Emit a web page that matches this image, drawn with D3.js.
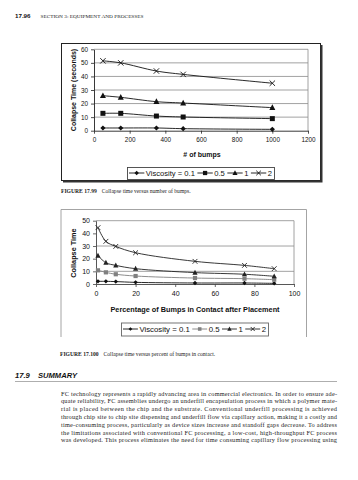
<!DOCTYPE html>
<html><head><meta charset="utf-8">
<script src="https://cdn.jsdelivr.net/npm/d3@7"></script>
<style>body{margin:0;background:#fff} svg{display:block}</style>
</head><body>
<svg id="page" width="358" height="480"></svg>
<script>
// ---------- data ----------
const bumpCounts   = [50, 150, 350, 500, 1000];
const visc01Bumps  = [2, 2, 2, 1.5, 1];
const visc05Bumps  = [12.8, 12.8, 10.8, 10.1, 8.9];
const visc1Bumps   = [25.8, 24.6, 21.4, 20.4, 17];
const visc2Bumps   = [51.5, 50, 44, 41.5, 35];
const bumpTicks    = [0, 200, 400, 600, 800, 1000, 1200];
const timeTicks1   = [0, 10, 20, 30, 40, 50, 60];
const grid1        = [10, 20, 30, 40, 50, 60];

const contactPct   = [1, 5, 10, 20, 50, 75, 90];
const visc01Pct    = [2.1, 2.1, 1.9, 1.3, 0.8, 0.8, 0.5];
const visc05Pct    = [10.8, 9.2, 7.7, 6.3, 4.7, 4.2, 3.4];
const visc1Pct     = [22.4, 16.8, 14.7, 12.1, 9, 7.7, 6.1];
const visc2Pct     = [44.5, 33.7, 29.7, 24.7, 17.9, 14.7, 12.1];
const pctTicks     = [0, 20, 40, 60, 80, 100];
const timeTicks2   = [0, 10, 20, 30, 40, 50];
const grid2        = [10, 30, 50];

const legendLabels = ["Viscosity = 0.1", "0.5", "1", "2"];
const markerTypes  = ["diamond", "square", "triangle", "x"];

const paragraph = [
  "FC technology represents a rapidly advancing area in commercial electronics. In order to ensure ade-",
  "quate reliability, FC assemblies undergo an underfill encapsulation process in which a polymer mate-",
  "rial is placed between the chip and the substrate. Conventional underfill processing is achieved",
  "through chip site to chip site dispensing and underfill flow via capillary action, making it a costly and",
  "time-consuming process, particularly as device sizes increase and standoff gaps decrease. To address",
  "the limitations associated with conventional FC processing, a low-cost, high-throughput FC process",
  "was developed. This process eliminates the need for time consuming capillary flow processing using"
];

// ---------- helpers ----------
const svg = d3.select("#page");
const SANS = "'Liberation Sans', Arial, sans-serif";
const SERIF = "'Liberation Serif', 'Times New Roman', serif";

function markerPath(type, r) {
  switch (type) {
    case "diamond": return `M0,${-r}L${r},0L0,${r}L${-r},0Z`;
    case "square": return `M${-r},${-r}h${2*r}v${2*r}h${-2*r}Z`;
    case "triangle": return `M0,${-r*1.1}L${r},${r*0.8}L${-r},${r*0.8}Z`;
    default: return `M${-r},${-r}L${r},${r}M${r},${-r}L${-r},${r}`;
  }
}
function drawMarker(g, type, x, y, r, color) {
  const p = g.append("path").attr("d", markerPath(type, r))
    .attr("transform", `translate(${x},${y})`);
  if (type === "x") p.attr("fill", "none").attr("stroke", color).attr("stroke-width", 0.9);
  else p.attr("fill", color).attr("stroke", "none");
}

function drawChart(cfg) {
  const g = svg.append("g");
  const x = d3.scaleLinear().domain(cfg.xDomain).range(cfg.xRange);
  const y = d3.scaleLinear().domain(cfg.yDomain).range(cfg.yRange);

  g.selectAll(".grid").data(cfg.grid).join("line")
    .attr("x1", cfg.xRange[0]).attr("x2", cfg.xRange[1])
    .attr("y1", d => y(d)).attr("y2", d => y(d))
    .attr("stroke", "#8a8a8a").attr("stroke-width", 0.8);
  g.append("line").attr("x1", cfg.xRange[1]).attr("x2", cfg.xRange[1])
    .attr("y1", cfg.yRange[0]).attr("y2", cfg.yRange[1])
    .attr("stroke", "#8a8a8a").attr("stroke-width", 0.8);

  const fmt = d3.format("d");
  const ax = g.append("g").attr("transform", `translate(0,${cfg.yRange[0]})`)
    .call(d3.axisBottom(x).tickValues(cfg.xTicks).tickFormat(fmt).tickSize(3).tickPadding(4).tickSizeOuter(0));
  const ay = g.append("g").attr("transform", `translate(${cfg.xRange[0]},0)`)
    .call(d3.axisLeft(y).tickValues(cfg.yTicks).tickFormat(fmt).tickSize(3).tickPadding(3).tickSizeOuter(0));
  [ax, ay].forEach(a => {
    a.select(".domain").attr("stroke", cfg.axisColor).attr("stroke-width", 0.9);
    a.selectAll(".tick line").attr("stroke", cfg.axisColor).attr("stroke-width", 0.8);
    a.selectAll("text").attr("font-family", SANS).attr("font-size", cfg.tickFont).attr("fill", "#111");
  });

  const line = d3.line().x(d => x(d[0])).y(d => y(d[1])).curve(d3.curveCatmullRom.alpha(0.5));
  cfg.series.forEach((s, i) => {
    const pts = cfg.xs.map((v, j) => [v, s.values[j]]);
    g.append("path").attr("d", line(pts)).attr("fill", "none")
      .attr("stroke", s.color).attr("stroke-width", 0.9);
    pts.forEach(p => drawMarker(g, markerTypes[i], x(p[0]), y(p[1]), cfg.markerR[i], s.color));
  });

  g.append("text").attr("x", cfg.xTitlePos[0]).attr("y", cfg.xTitlePos[1])
    .attr("text-anchor", "middle").attr("dominant-baseline", "central")
    .attr("font-family", SANS).attr("font-weight", "bold").attr("font-size", cfg.titleFont)
    .attr("fill", "#111").text(cfg.xTitle);
  g.append("text").attr("transform", `translate(${cfg.yTitlePos[0]},${cfg.yTitlePos[1]}) rotate(-90)`)
    .attr("text-anchor", "middle").attr("dominant-baseline", "central")
    .attr("font-family", SANS).attr("font-weight", "bold").attr("font-size", cfg.titleFont)
    .attr("fill", "#111").text(cfg.yTitle);

  const L = cfg.legend;
  const lg = g.append("g");
  const texts = legendLabels.map(t => lg.append("text").attr("font-family", SANS)
    .attr("font-size", L.font).attr("dominant-baseline", "central").attr("fill", "#111").text(t));
  const widths = texts.map(t => t.node().getComputedTextLength());
  const pad = 2, gapA = 1.5, gapB = 2.5;
  const sw = (L.x1 - L.x0 - 2 * pad - d3.sum(widths) - 4 * gapA - 3 * gapB) / 4;
  let cx = L.x0 + pad;
  const cy = (L.y0 + L.y1) / 2;
  cfg.series.forEach((s, i) => {
    lg.append("line").attr("x1", cx).attr("x2", cx + sw).attr("y1", cy).attr("y2", cy)
      .attr("stroke", s.color).attr("stroke-width", 0.9);
    drawMarker(lg, markerTypes[i], cx + sw / 2, cy, cfg.markerR[i] * 0.85, s.color);
    cx += sw + gapA;
    texts[i].attr("x", cx).attr("y", cy);
    cx += widths[i] + gapB;
  });
  lg.append("rect").attr("x", L.x0 + 0.5).attr("y", L.y0 + 0.5)
    .attr("width", L.x1 - L.x0).attr("height", L.y1 - L.y0)
    .attr("fill", "none").attr("stroke", L.stroke).attr("stroke-width", 0.9);
}

// ---------- page header ----------
svg.append("text").attr("x", 15).attr("y", 18).attr("font-family", SANS)
  .attr("font-weight", "bold").attr("font-size", 6.2).attr("fill", "#111").text("17.96");
svg.append("text").attr("x", 40.5).attr("y", 18).attr("font-family", SERIF)
  .attr("font-size", 5).attr("textLength", 103).attr("lengthAdjust", "spacingAndGlyphs")
  .attr("fill", "#222").text("SECTION 3: EQUIPMENT AND PROCESSES");

// ---------- chart 1 frame ----------
svg.append("rect").attr("x", 61.5).attr("y", 43.5).attr("width", 259).attr("height", 137)
  .attr("fill", "#fff").attr("stroke", "#222").attr("stroke-width", 1);
svg.append("path").attr("d", "M63,181.5H321.5V45").attr("fill", "none")
  .attr("stroke", "#333").attr("stroke-width", 2);

drawChart({
  xDomain: [0, 1200], xRange: [94, 308],
  yDomain: [0, 60], yRange: [130.7, 49.3],
  xTicks: bumpTicks, yTicks: timeTicks1, grid: grid1,
  axisColor: "#222", tickFont: 6.4, titleFont: 7,
  xs: bumpCounts,
  series: [
    { values: visc01Bumps, color: "#111" },
    { values: visc05Bumps, color: "#111" },
    { values: visc1Bumps, color: "#111" },
    { values: visc2Bumps, color: "#111" }
  ],
  markerR: [2.6, 2.5, 3, 2.7],
  xTitle: "# of bumps", xTitlePos: [202, 154],
  yTitle: "Collapse Time (seconds)", yTitlePos: [73, 90],
  legend: { x0: 127, x1: 274, y0: 167, y1: 179, font: 7.6, stroke: "#444" }
});

const cap1 = svg.append("text").attr("x", 61).attr("y", 193).attr("font-family", SERIF)
  .attr("font-size", 5.6).attr("fill", "#222");
cap1.append("tspan").attr("font-weight", "bold").text("FIGURE 17.99");
cap1.append("tspan").attr("dx", 5).text("Collapse time versus number of bumps.");

// ---------- chart 2 frame ----------
svg.append("path").attr("d", "M61,337V209.5H306.5V337").attr("fill", "none")
  .attr("stroke", "#9a9a9a").attr("stroke-width", 0.9);

drawChart({
  xDomain: [0, 100], xRange: [96, 294],
  yDomain: [0, 50], yRange: [284, 220.7],
  xTicks: pctTicks, yTicks: timeTicks2, grid: grid2,
  axisColor: "#444", tickFont: 7, titleFont: 7.3,
  xs: contactPct,
  series: [
    { values: visc01Pct, color: "#111" },
    { values: visc05Pct, color: "#808080" },
    { values: visc1Pct, color: "#222" },
    { values: visc2Pct, color: "#222" }
  ],
  markerR: [2.2, 2.1, 2.6, 2.4],
  xTitle: "Percentage of Bumps in Contact after Placement", xTitlePos: [195, 309],
  yTitle: "Collapse Time", yTitlePos: [73, 253],
  legend: { x0: 121, x1: 268, y0: 322.5, y1: 335.5, font: 7.8, stroke: "#666" }
});

const cap2 = svg.append("text").attr("x", 60).attr("y", 356).attr("font-family", SERIF)
  .attr("font-size", 5.6).attr("fill", "#222");
cap2.append("tspan").attr("font-weight", "bold").text("FIGURE 17.100");
cap2.append("tspan").attr("dx", 5).text("Collapse time versus percent of bumps in contact.");

// ---------- section heading ----------
const hd = svg.append("text").attr("x", 15).attr("y", 377.5).attr("font-family", SANS)
  .attr("font-weight", "bold").attr("font-style", "italic").attr("font-size", 7.6).attr("fill", "#111");
hd.append("tspan").text("17.9");
hd.append("tspan").attr("x", 38).text("SUMMARY");
svg.append("line").attr("x1", 15).attr("x2", 337).attr("y1", 381.5).attr("y2", 381.5)
  .attr("stroke", "#999").attr("stroke-width", 0.8);

// ---------- paragraph ----------
svg.append("g").selectAll("text").data(paragraph).join("text")
  .attr("x", 61).attr("y", (d, i) => 395.5 + i * 7.8)
  .attr("font-family", SERIF).attr("font-size", 6.3).attr("fill", "#222")
  .attr("textLength", 276).attr("lengthAdjust", "spacing")
  .text(d => d);
</script>
</body></html>
